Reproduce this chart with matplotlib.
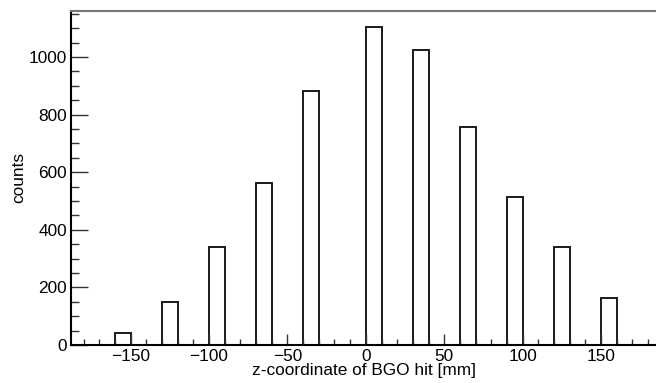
import matplotlib
matplotlib.use('AGG')

import numpy as np
import matplotlib.pyplot as plt
from matplotlib.ticker import MultipleLocator

# histogram data (left bin edge in mm, bin width 10 mm)
bin_left = [-160, -130, -100, -70, -40, 0, 30, 60, 90, 120, 150]
counts = [43, 148, 342, 562, 883, 1105, 1025, 756, 513, 342, 164]
bin_width = 10

plt.rcParams['font.family'] = ['Liberation Sans', 'DejaVu Sans']

fig = plt.figure(figsize=(6.56, 3.83), dpi=100)
ax = fig.add_axes([71/656, 1 - 345/383, 1 - 71/656, (345 - 11)/383])

ax.bar(bin_left, counts, width=bin_width, align='edge',
       facecolor='white', edgecolor='#1a1a1a', linewidth=1.4)

ax.set_xlim(-188, 185)
ax.set_ylim(0, 1160)

ax.xaxis.set_major_locator(MultipleLocator(50))
ax.xaxis.set_minor_locator(MultipleLocator(10))
ax.yaxis.set_major_locator(MultipleLocator(200))
ax.yaxis.set_minor_locator(MultipleLocator(50))

ax.tick_params(axis='both', which='both', direction='in', labelsize=12.4,
               color='#333333', width=1.0)
ax.tick_params(axis='y', which='major', length=12, pad=3)
ax.tick_params(axis='y', which='minor', length=6)
ax.tick_params(axis='x', which='major', length=8, pad=3)
ax.tick_params(axis='x', which='minor', length=4)

ax.spines['left'].set_linewidth(1.5)
ax.spines['bottom'].set_linewidth(1.5)
ax.spines['top'].set_linewidth(1.5)
ax.spines['top'].set_color('#777777')
ax.spines['right'].set_visible(False)

ax.set_xlabel('z-coordinate of BGO hit [mm]', fontsize=12.4, va='center')
ax.xaxis.set_label_coords((364 - 71)/585, (345 - 371)/334)
ax.set_ylabel('counts', fontsize=12.4, va='center')
ax.yaxis.set_label_coords((19 - 71)/585, 0.5)

plt.savefig('out.png', dpi=100)
plt.close(fig)
